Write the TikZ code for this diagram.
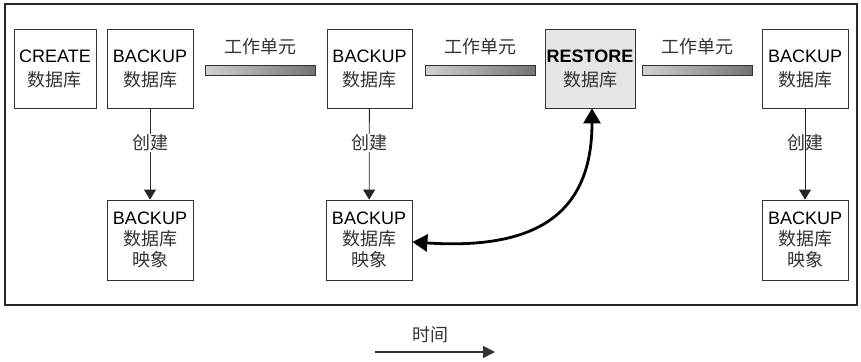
\documentclass[tikz,border=0pt]{standalone}
\usepackage{fontspec}
\setmainfont{Liberation Sans}
\newfontfamily\cjk{Noto Sans CJK SC}
\usetikzlibrary{arrows.meta}
\begin{document}
\begin{tikzpicture}[x=1pt,y=-1pt,
  box/.style={draw=black!80, line width=0.8pt, fill=white, minimum width=86pt, minimum height=79pt,
    inner sep=0pt, align=center, font=\fontsize{18}{24}\selectfont},
  imgbox/.style={box, minimum height=80pt, font=\fontsize{18}{21}\selectfont},
  bar/.style={draw=black!80, line width=0.8pt, left color=black!18, right color=black!55,
    minimum width=110pt, minimum height=10pt, inner sep=0pt},
  lab/.style={font=\fontsize{18}{21}\selectfont\cjk, text=black!80, inner sep=1pt},
  arr/.style={draw=black!85, line width=0.8pt, -{Triangle[length=10pt,width=12pt]}},
  bigarr/.style={draw=black, line width=2.8pt, {Triangle[length=15pt,width=17pt]}-{Triangle[length=15pt,width=17pt]}},
  timearr/.style={draw=black!80, line width=1.3pt, -{Triangle[length=12pt,width=12pt]}}
]
\useasboundingbox (0,0) rectangle (861,361);
\draw[black!85, line width=1.2pt] (5,4) rectangle (857,305);

% top row
\node[box, minimum width=82pt] (c) at (55,68.5) {CREATE\\{\cjk\color{black!80}数据库}};
\node[box] (b1) at (150,68.5) {BACKUP\\{\cjk\color{black!80}数据库}};
\node[box, minimum width=85pt] (b2) at (369.5,68.5) {BACKUP\\{\cjk\color{black!80}数据库}};
\node[box, fill=black!10, minimum width=90pt] (r) at (590,68.5) {\textbf{RESTORE}\\{\cjk\color{black!80}数据库}};
\node[box] (b3) at (805,68.5) {BACKUP\\{\cjk\color{black!80}数据库}};

% work units
\node[bar] (w1) at (260,70) {};
\node[bar] (w2) at (480.5,70) {};
\node[bar] (w3) at (697,70) {};
\node[lab] (l1) at (260,47) {工作单元};
\node[lab] (l2) at (480.5,47) {工作单元};
\node[lab] (l3) at (697,47) {工作单元};

% image boxes
\node[imgbox] (i1) at (150,240) {BACKUP\\{\cjk\color{black!80}数据库}\\{\cjk\color{black!80}映象}};
\node[imgbox] (i2) at (369,240) {BACKUP\\{\cjk\color{black!80}数据库}\\{\cjk\color{black!80}映象}};
\node[imgbox] (i3) at (805,240) {BACKUP\\{\cjk\color{black!80}数据库}\\{\cjk\color{black!80}映象}};

% create arrows
\draw[arr] (b1) -- node[lab, fill=white, pos=0.38] {创建} (i1);
\draw[arr] (b2) -- node[lab, fill=white, pos=0.38] {创建} (i2);
\draw[arr] (b3) -- node[lab, pos=0.38] {创建} (i3);

% restore arrow
\draw[bigarr] ([xshift=2pt]r.south) .. controls (592,215) and (535,250) .. ([yshift=-2pt]i2.east);

% time
\node[lab] (t) at (430,335) {时间};
\coordinate (ta) at (375,352);
\coordinate (tb) at (495,352);
\draw[timearr] (ta) -- (tb);
\end{tikzpicture}
\end{document}
